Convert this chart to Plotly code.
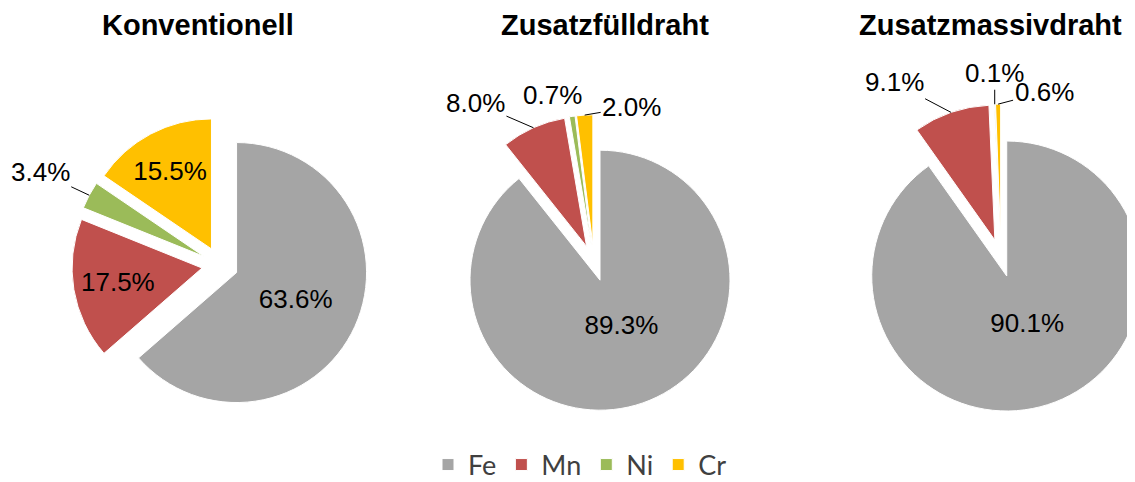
import math
import plotly.graph_objects as go

elements = ["Fe", "Mn", "Ni", "Cr"]
colors = ["#A5A5A5", "#C0504D", "#9BBB59", "#FFC000"]

titles = ["Konventionell", "Zusatzfülldraht", "Zusatzmassivdraht"]
konventionell = [63.6, 17.5, 3.4, 15.5]
fuelldraht = [89.3, 8.0, 0.7, 2.0]
massivdraht = [90.1, 9.1, 0.1, 0.6]

# page is offset by the 8px body margin; paper is wider than the window so
# the right pie gets cut off like in the reference
OFF = 8
W, H = 1160, 482
PULL = 0.14

# centre / radius in window px, which slices get inside labels
pies = [
    dict(vals=konventionell, cx=220, cy=265, r=130, inside=[1, 1, 0, 1], lift=False),
    dict(vals=fuelldraht, cx=594, cy=263, r=130, inside=[1, 0, 0, 0], lift=True),
    dict(vals=massivdraht, cx=1001, cy=258, r=135, inside=[1, 0, 0, 0], lift=True),
]

# outside labels: (pie, slice, dx, dy, leader line)
outside = [
    (0, 2, -49, -23, True),
    (1, 1, -58, -25, True),
    (1, 2, -20, -21, False),
    (1, 3, 47, -8, True),
    (2, 1, -57, -30, True),
    (2, 2, 0, -31, True),
    (2, 3, 46, -12, True),
]


def px(x):
    return (x - OFF) / W


def py(y):
    return 1 - (y - OFF) / H


def slice_edge(p, k):
    # outer arc point on the bisector of slice k (pulled out)
    vals = p["vals"]
    tot = sum(vals)
    mid = (sum(vals[:k]) + vals[k] / 2) / tot * 2 * math.pi
    dx, dy = math.sin(mid), -math.cos(mid)
    d = p["r"] * (1 + PULL)
    return p["cx"] + d * dx, p["cy"] + d * dy


fig = go.Figure()
for i, p in enumerate(pies):
    half = p["r"] * (1 + PULL)
    tmpl = ["%{value:.1f}%"] * 4
    if p["lift"]:
        # big slice label sits a bit higher in the reference
        tmpl[0] = "%{value:.1f}%<br> "
    fig.add_trace(go.Pie(
        labels=elements,
        values=p["vals"],
        sort=False,
        direction="clockwise",
        rotation=0,
        pull=PULL,
        marker=dict(colors=colors, line=dict(color="white", width=1)),
        texttemplate=tmpl,
        textposition=["inside" if s else "none" for s in p["inside"]],
        insidetextorientation="horizontal",
        textfont=dict(family="Liberation Sans, Arial", size=26, color="black"),
        hoverinfo="label+value",
        domain=dict(x=[px(p["cx"] - half), px(p["cx"] + half)],
                    y=[py(p["cy"] + half), py(p["cy"] - half)]),
        showlegend=(i == 0),
    ))

pct_font = dict(family="Liberation Sans, Arial", size=26, color="black")
for pi, k, dx, dy, line in outside:
    p = pies[pi]
    ex, ey = slice_edge(p, k)
    txt = "%.1f%%" % p["vals"][k]
    if line:
        fig.add_annotation(text=txt, x=px(ex), y=py(ey), xref="paper", yref="paper",
                           ax=dx, ay=dy, showarrow=True, arrowhead=0, arrowwidth=1,
                           arrowcolor="black", standoff=0, font=pct_font)
    else:
        fig.add_annotation(text=txt, x=px(ex + dx), y=py(ey + dy), xref="paper",
                           yref="paper", xanchor="center", yanchor="middle",
                           showarrow=False, font=pct_font)

title_x = [198, 605, 990]
for t, x in zip(titles, title_x):
    fig.add_annotation(text="<b>%s</b>" % t, x=px(x), y=py(25),
                       xref="paper", yref="paper", showarrow=False,
                       xanchor="center", yanchor="middle",
                       font=dict(family="Liberation Sans, Arial", size=29, color="black"))

fig.update_layout(
    width=W, height=H,
    margin=dict(l=0, r=0, t=0, b=0, autoexpand=False),
    paper_bgcolor="white",
    uniformtext=dict(mode="show", minsize=26),
    legend=dict(orientation="h", x=px(580), xanchor="center", y=py(465), yanchor="middle",
                font=dict(family="Lato, Carlito, Calibri", size=27, color="#404040"),
                itemclick=False),
)

fig.write_html("out.html")
